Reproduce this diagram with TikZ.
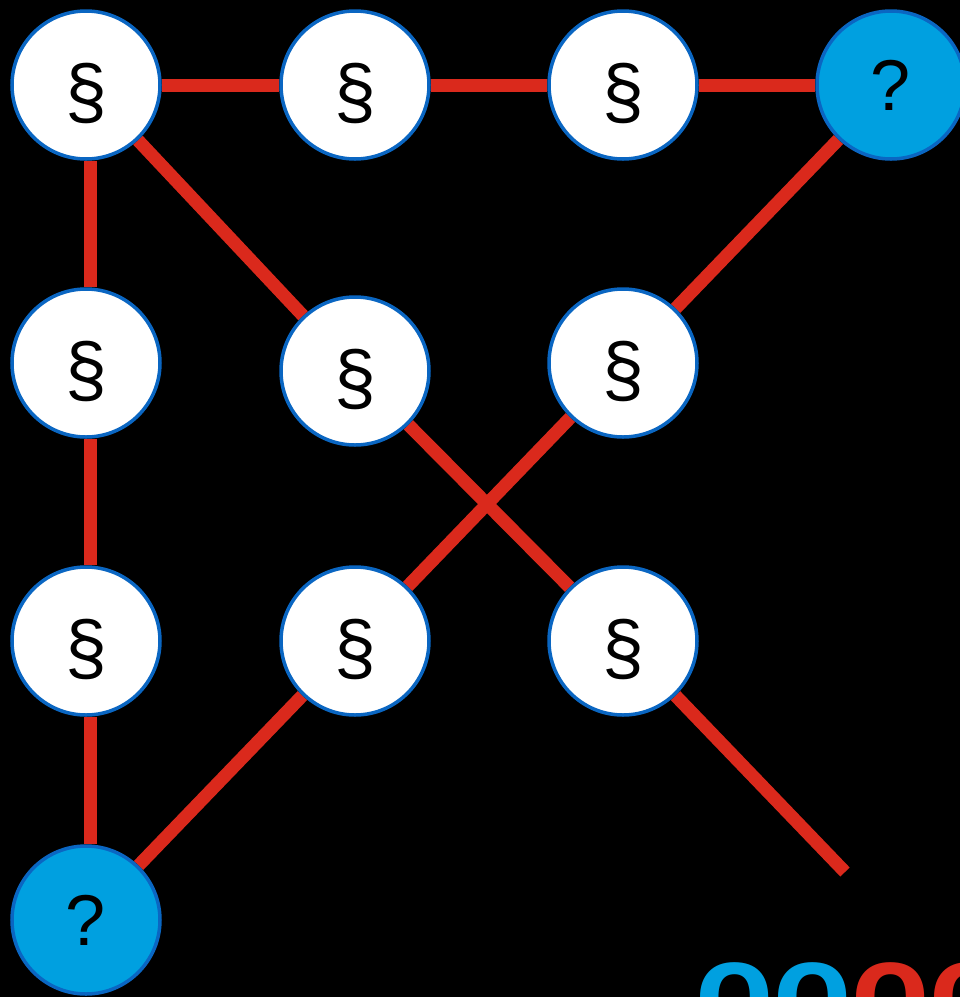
\documentclass[tikz,border=0pt]{standalone}
\usepackage{fontspec}
\setmainfont{Liberation Sans}
\usetikzlibrary{backgrounds}
\definecolor{edgered}{HTML}{DA291C}
\definecolor{ringblue}{HTML}{0A66C2}
\definecolor{fillblue}{HTML}{00A0E0}
\newcommand{\sectsign}{\fontsize{75}{80}\selectfont\raisebox{-8pt}[\height][\depth]{§}}
\tikzset{
  x=1pt, y=-1pt,
  sect/.style={circle, draw=ringblue, line width=3.5pt, fill=white, minimum size=148pt, inner sep=0pt, font=\fontsize{72}{80}\selectfont},
  quest/.style={sect, fill=fillblue},
  link/.style={draw=edgered, line width=13pt}
}
\begin{document}
\begin{tikzpicture}
\useasboundingbox (0,0) rectangle (960,997);
\node[sect] (a1) at (86,85) {\sectsign};
\node[sect] (a2) at (355,85) {\sectsign};
\node[sect] (a3) at (623,85) {\sectsign};
\node[quest] (a4) at (891,85) {?};
\node[sect] (b1) at (86,363) {\sectsign};
\node[sect] (b2) at (355,371) {\sectsign};
\node[sect] (b3) at (623,363) {\sectsign};
\node[sect] (c1) at (86,641) {\sectsign};
\node[sect] (c2) at (355,641) {\sectsign};
\node[sect] (c3) at (623,641) {\sectsign};
\node[quest] (d1) at (86,920) {?};
\coordinate (tail) at (845,872);
\node[anchor=base west, inner sep=0pt, font=\bfseries\fontsize{128}{130}\selectfont] (logo) at (695,1031) {\textcolor{fillblue}{oo}\textcolor{edgered}{oo}};
\begin{pgfonlayer}{background}
\fill[black] (0,0) rectangle (960,997);
\draw[link] (a1) -- (a2);
\draw[link] (a2) -- (a3);
\draw[link] (a3) -- (a4);
\draw[link] ([xshift=4pt]a1.south) -- ([xshift=4pt]b1.north);
\draw[link] ([xshift=4pt]b1.south) -- ([xshift=4pt]c1.north);
\draw[link] ([xshift=4pt]c1.south) -- ([xshift=4pt]d1.north);
\draw[link] (a1) -- (b2);
\draw[link] (a4) -- (b3);
\draw[link] (b2) -- (c3);
\draw[link] (b3) -- (c2);
\draw[link] (c2) -- (d1);
\draw[link] (c3) -- (tail);
\end{pgfonlayer}
\end{tikzpicture}
\end{document}
